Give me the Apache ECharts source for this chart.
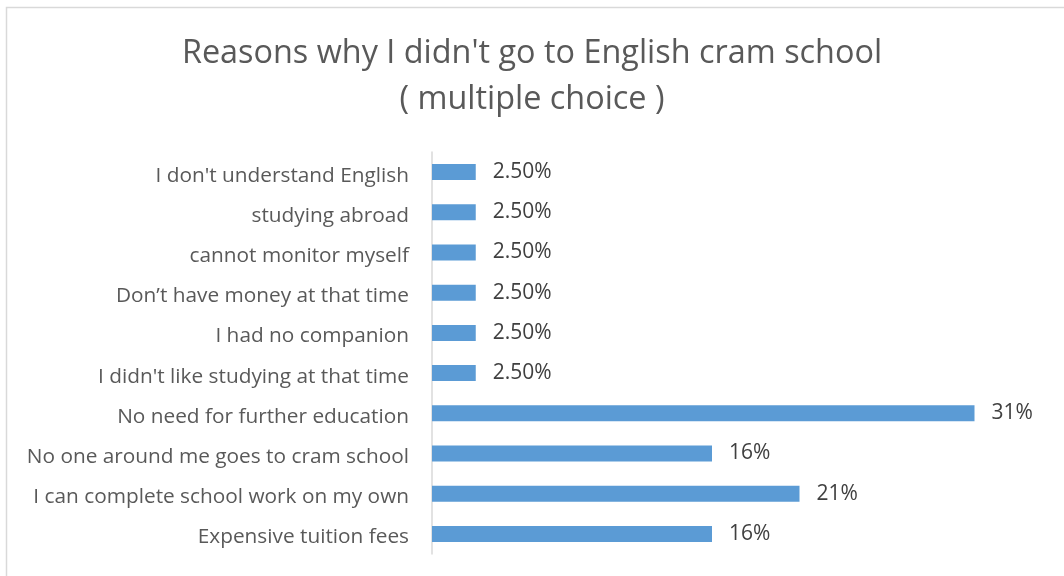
<!DOCTYPE html>
<html>
<head>
<meta charset="utf-8">
<script src="https://cdn.jsdelivr.net/npm/echarts@6/dist/echarts.min.js"></script>
<style>
  html, body { margin: 0; padding: 0; background: #ffffff; }
  #chart { width: 1064px; height: 576px; }
</style>
</head>
<body>
<div id="chart"></div>
<script>
// Survey reasons, listed bottom-to-top as the category axis draws them
const reasons = [
  'Expensive tuition fees',
  'I can complete school work on my own',
  'No one around me goes to cram school',
  'No need for further education',
  "I didn't like studying at that time",
  'I had no companion',
  'Don\u2019t have money at that time',
  'cannot monitor myself',
  'studying abroad',
  "I don't understand English"
];
// Share of respondents (%)
const shares = [16, 21, 16, 31, 2.5, 2.5, 2.5, 2.5, 2.5, 2.5];
// Text shown at the end of each bar
const shareLabels = ['16%', '21%', '16%', '31%', '2.50%', '2.50%', '2.50%', '2.50%', '2.50%', '2.50%'];

const FONT = '"Open Sans", sans-serif';
const chart = echarts.init(document.getElementById('chart'), null, { renderer: 'canvas' });

chart.setOption({
  animation: false,
  backgroundColor: '#ffffff',
  graphic: [{
    type: 'rect',
    silent: true,
    shape: { x: 6.5, y: 7.5, width: 1200, height: 700 },
    style: { fill: 'none', stroke: '#d9d9d9', lineWidth: 1.5 }
  }],
  title: {
    text: "Reasons why I didn't go to English cram school\n( multiple choice )",
    left: 'center',
    top: 26,
    textStyle: {
      fontFamily: FONT,
      fontWeight: 'normal',
      fontSize: 32.4,
      lineHeight: 46,
      color: '#595959'
    }
  },
  grid: { left: 432, top: 152, width: 612.5, height: 402, containLabel: false },
  xAxis: {
    type: 'value',
    min: 0,
    max: 35,
    show: false
  },
  yAxis: {
    type: 'category',
    data: reasons,
    axisLine: { show: true, lineStyle: { color: '#d9d9d9', width: 1.5 } },
    axisTick: { show: false },
    axisLabel: {
      margin: 23,
      verticalAlign: 'top',
      lineHeight: 7,
      fontFamily: FONT,
      fontSize: 20.8,
      color: '#595959'
    }
  },
  series: [{
    type: 'bar',
    data: shares,
    barWidth: 16,
    itemStyle: { color: '#5b9bd5' },
    label: {
      show: true,
      position: 'right',
      distance: 17,
      padding: [2, 0, 0, 0],
      fontFamily: FONT,
      fontSize: 21,
      color: '#404040',
      formatter: p => shareLabels[p.dataIndex]
    }
  }]
});
</script>
</body>
</html>
